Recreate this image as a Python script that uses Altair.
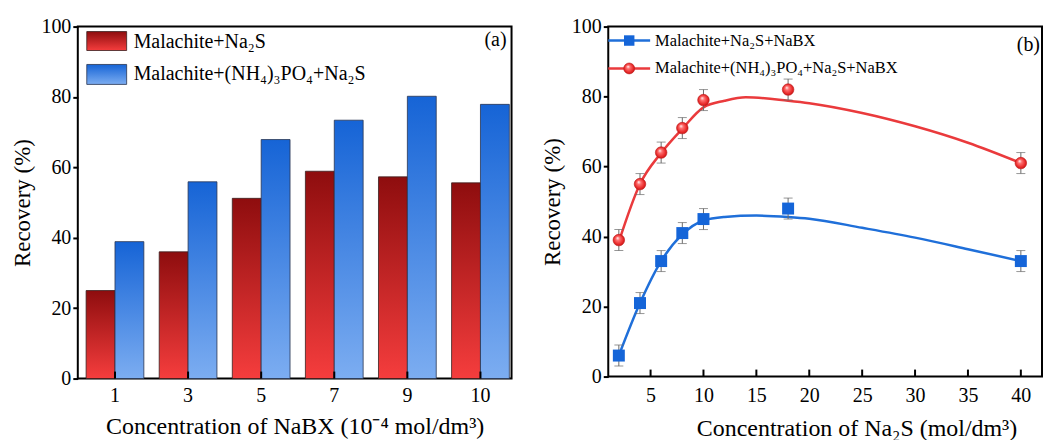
import altair as alt
import pandas as pd

FONT = "Liberation Serif"

# ---------------- data (a) ----------------
cats = ["1", "3", "5", "7", "9", "10"]
red_vals = [25.0, 36.0, 51.2, 58.9, 57.3, 55.6]
blue_vals = [38.9, 55.9, 67.9, 73.4, 80.2, 77.9]
series_a = ["Malachite+Na₂S", "Malachite+(NH₄)₃PO₄+Na₂S"]

# ---------------- data (b) ----------------
xb = [2, 4, 6, 8, 10, 18, 40]
blue_pts = [6, 21, 33, 41, 45, 48, 33]
red_pts = [39, 55, 64, 71, 79, 82, 61]
err = [3, 3, 3, 3, 3, 3, 3]
blue_curve_x = [2, 4, 6, 8, 10, 12, 15, 18, 20, 25, 30, 35, 40]
blue_curve_y = [6, 21, 33, 40.6, 44.6, 45.6, 46.0, 45.6, 45.1, 42.5, 39.7, 36.4, 33]
red_curve_x = [2, 4, 6, 8, 10, 12, 14, 18, 20, 25, 30, 35, 40]
red_curve_y = [38.5, 55, 63.9, 70.8, 76.9, 78.8, 79.8, 78.8, 78.1, 75.3, 71.5, 66.8, 61]
series_b = ["Malachite+Na₂S+NaBX", "Malachite+(NH₄)₃PO₄+Na₂S+NaBX"]
xticks_b = [5, 10, 15, 20, 25, 30, 35, 40]
yticks = [0, 20, 40, 60, 80, 100]

RED_TOP, RED_BOT = "#8e0d0e", "#f53d3d"
BLUE_TOP, BLUE_BOT = "#1664d6", "#7cadf1"


def vgrad(c0, c1):
    return alt.Gradient(
        gradient="linear", x1=0, x2=0, y1=0, y2=1,
        stops=[alt.GradientStop(color=c0, offset=0), alt.GradientStop(color=c1, offset=1)],
    )


WA, HA = 435, 353
WB, HB = 435, 351

df_a = pd.DataFrame({
    "conc": cats * 2,
    "series": [series_a[0]] * len(cats) + [series_a[1]] * len(cats),
    "rec": red_vals + blue_vals,
})
df_cats = pd.DataFrame({"conc": cats})

x_a = alt.X(
    "conc:N", sort=cats,
    scale=alt.Scale(paddingInner=0.21, paddingOuter=0.072, align=0.79),
    axis=alt.Axis(
        title="Concentration of NaBX (10⁻⁴ mol/dm³)", labelAngle=0, ticks=False, tickSize=0,
        domain=False, labelPadding=7, titlePadding=9, titleFontSize=24,
    ),
)
y_a = alt.Y(
    "rec:Q", scale=alt.Scale(domain=[0, 100], nice=False),
    axis=alt.Axis(title="Recovery (%)", values=yticks, tickSize=5, tickWidth=2,
                  labelPadding=2, titlePadding=6, domain=False, titleFontSize=23),
)
xoff = alt.XOffset("series:N", sort=series_a, scale=alt.Scale(domain=series_a))

bar_red = alt.Chart(df_a).transform_filter(alt.datum.series == series_a[0]).mark_bar(
    fill=vgrad(RED_TOP, RED_BOT), stroke="#3a2020", strokeWidth=0.8
).encode(x=x_a, xOffset=xoff, y=y_a)
bar_blue = alt.Chart(df_a).transform_filter(alt.datum.series == series_a[1]).mark_bar(
    fill=vgrad(BLUE_TOP, BLUE_BOT), stroke="#2a3550", strokeWidth=0.8
).encode(x=x_a, xOffset=xoff, y=y_a)

ticks_a = alt.Chart(df_cats).mark_rule(color="black", strokeWidth=2).encode(
    x=alt.X("conc:N", sort=cats, bandPosition=0.5),
    y=alt.value(HA), y2=alt.value(HA - 7),
)

leg_a = pd.DataFrame({"name": series_a, "i": [0, 1]})
leg_a_red = alt.Chart(leg_a.iloc[[0]]).mark_rect(
    fill=vgrad(RED_TOP, RED_BOT), stroke="#3a2020", strokeWidth=0.8
).encode(x=alt.value(9), x2=alt.value(49), y=alt.value(5), y2=alt.value(24))
leg_a_blue = alt.Chart(leg_a.iloc[[1]]).mark_rect(
    fill=vgrad(BLUE_TOP, BLUE_BOT), stroke="#2a3550", strokeWidth=0.8
).encode(x=alt.value(9), x2=alt.value(49), y=alt.value(38), y2=alt.value(58))
leg_a_t1 = alt.Chart(leg_a.iloc[[0]]).mark_text(
    font=FONT, fontSize=20, align="left", baseline="middle", color="black"
).encode(x=alt.value(56), y=alt.value(15), text="name:N")
leg_a_t2 = alt.Chart(leg_a.iloc[[1]]).mark_text(
    font=FONT, fontSize=20, align="left", baseline="middle", color="black"
).encode(x=alt.value(56), y=alt.value(48), text="name:N")
lab_a = alt.Chart(pd.DataFrame({"t": ["(a)"]})).mark_text(
    font=FONT, fontSize=20, align="right", baseline="middle", color="black"
).encode(x=alt.value(WA - 5), y=alt.value(13), text="t:N")

chart_a = alt.layer(
    bar_red, bar_blue, ticks_a, leg_a_red, leg_a_blue, leg_a_t1, leg_a_t2, lab_a
).properties(width=WA, height=HA)

# ---------------- chart (b) ----------------
df_pts = pd.DataFrame({
    "x": xb * 2,
    "y": blue_pts + red_pts,
    "e": err * 2,
    "series": [series_b[0]] * len(xb) + [series_b[1]] * len(xb),
})
df_pts["lo"] = df_pts["y"] - df_pts["e"]
df_pts["hi"] = df_pts["y"] + df_pts["e"]

df_curve = pd.DataFrame({
    "x": blue_curve_x + red_curve_x,
    "y": blue_curve_y + red_curve_y,
    "series": [series_b[0]] * len(blue_curve_x) + [series_b[1]] * len(red_curve_x),
})

x_b = alt.X(
    "x:Q", scale=alt.Scale(domain=[1, 42], nice=False, zero=False),
    axis=alt.Axis(title="Concentration of Na₂S (mol/dm³)", values=xticks_b, ticks=False,
                  tickSize=0, domain=False, labelPadding=9, titlePadding=11, grid=False,
                  labelFlush=False, titleFontSize=24, titleX=249),
)
y_b = alt.Y(
    "y:Q", scale=alt.Scale(domain=[0, 100], nice=False),
    axis=alt.Axis(title="Recovery (%)", values=yticks, tickSize=5, tickWidth=2,
                  labelPadding=2, titlePadding=7, domain=False, grid=False, titleFontSize=23),
)

blue_line = alt.Chart(df_curve).transform_filter(alt.datum.series == series_b[0]).mark_line(
    color="#1f6fd9", strokeWidth=2.5, interpolate="monotone"
).encode(x=x_b, y=y_b)
red_line = alt.Chart(df_curve).transform_filter(alt.datum.series == series_b[1]).mark_line(
    color="#ea3a3c", strokeWidth=2.5, interpolate="monotone"
).encode(x=x_b, y=y_b)

err_rule = alt.Chart(df_pts).mark_rule(color="#6a6a6a", strokeWidth=1).encode(
    x="x:Q", y="lo:Q", y2="hi:Q")
err_cap_lo = alt.Chart(df_pts).mark_tick(color="#6a6a6a", thickness=1, size=9, orient="horizontal").encode(
    x="x:Q", y="lo:Q")
err_cap_hi = alt.Chart(df_pts).mark_tick(color="#6a6a6a", thickness=1, size=9, orient="horizontal").encode(
    x="x:Q", y="hi:Q")

circ_grad = alt.Gradient(
    gradient="radial", x1=0.38, y1=0.32, r1=0, x2=0.5, y2=0.5, r2=0.55,
    stops=[
        alt.GradientStop(color="#ffffff", offset=0),
        alt.GradientStop(color="#ff7070", offset=0.3),
        alt.GradientStop(color="#e82828", offset=0.75),
        alt.GradientStop(color="#b81414", offset=1),
    ],
)

blue_pt = alt.Chart(df_pts).transform_filter(alt.datum.series == series_b[0]).mark_point(
    shape="square", filled=True, fill="#1565d8", size=144, opacity=1, strokeWidth=0
).encode(x="x:Q", y="y:Q")
red_pt = alt.Chart(df_pts).transform_filter(alt.datum.series == series_b[1]).mark_point(
    shape="circle", filled=True, fill=circ_grad, size=135, opacity=1, stroke="#c01818",
    strokeWidth=0.6
).encode(x="x:Q", y="y:Q")

ticks_b = alt.Chart(pd.DataFrame({"x": xticks_b})).mark_rule(color="black", strokeWidth=2).encode(
    x="x:Q", y=alt.value(HB), y2=alt.value(HB - 7))

leg_b = pd.DataFrame({"name": series_b})
lb_line1 = alt.Chart(leg_b.iloc[[0]]).mark_rule(color="#1f6fd9", strokeWidth=2.5).encode(
    x=alt.value(0), x2=alt.value(42), y=alt.value(14))
lb_pt1 = alt.Chart(leg_b.iloc[[0]]).mark_point(
    shape="square", filled=True, fill="#1565d8", size=110, opacity=1, strokeWidth=0
).encode(x=alt.value(21), y=alt.value(14))
lb_line2 = alt.Chart(leg_b.iloc[[0]]).mark_rule(color="#ea3a3c", strokeWidth=2.5).encode(
    x=alt.value(0), x2=alt.value(42), y=alt.value(42))
lb_pt2 = alt.Chart(leg_b.iloc[[1]]).mark_point(
    shape="circle", filled=True, fill=circ_grad, size=120, opacity=1, stroke="#c01818",
    strokeWidth=0.6
).encode(x=alt.value(21), y=alt.value(42))
lb_t1 = alt.Chart(leg_b.iloc[[0]]).mark_text(
    font=FONT, fontSize=16.5, align="left", baseline="middle", color="black"
).encode(x=alt.value(47), y=alt.value(14), text="name:N")
lb_t2 = alt.Chart(leg_b.iloc[[1]]).mark_text(
    font=FONT, fontSize=16.5, align="left", baseline="middle", color="black"
).encode(x=alt.value(47), y=alt.value(42), text="name:N")
lab_b = alt.Chart(pd.DataFrame({"t": ["(b)"]})).mark_text(
    font=FONT, fontSize=20, align="right", baseline="middle", color="black"
).encode(x=alt.value(WB - 2), y=alt.value(18), text="t:N")

chart_b = alt.layer(
    blue_line, red_line, err_rule, err_cap_lo, err_cap_hi, blue_pt, red_pt, ticks_b,
    lb_line1, lb_pt1, lb_line2, lb_pt2, lb_t1, lb_t2, lab_b
).properties(width=WB, height=HB)

chart = alt.hconcat(chart_a, chart_b, spacing=28).properties(
    padding={"left": 3, "top": 7, "right": 0, "bottom": 0},
    background="white",
).configure_view(
    stroke="black", strokeWidth=2
).configure_axis(
    labelFont=FONT, titleFont=FONT, labelFontSize=20, titleFontSize=23,
    titleFontWeight="normal", labelColor="black", titleColor="black", tickColor="black",
    grid=False,
)

chart.save("out.html", embed_options={"renderer": "svg", "actions": False})
